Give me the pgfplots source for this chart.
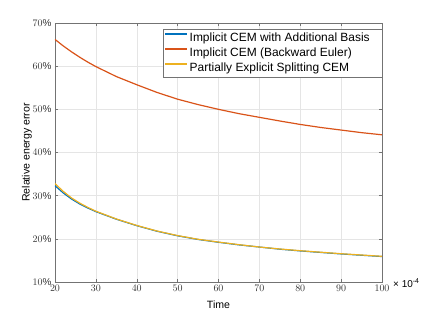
\documentclass[border=0pt]{standalone}
\usepackage{fontspec}
\setmainfont{Liberation Sans}
\usepackage{pgfplots}
\pgfplotsset{compat=1.18}
\definecolor{mblue}{rgb}{0,0.447,0.741}
\definecolor{mred}{rgb}{0.85,0.325,0.098}
\definecolor{myellow}{rgb}{0.929,0.694,0.125}
\definecolor{axgray}{rgb}{0.45,0.45,0.45}
\definecolor{gridgray}{rgb}{0.9,0.9,0.9}
\begin{document}
\begin{tikzpicture}
\begin{axis}[
  name=ax,
  at={(0,0)}, anchor=south west,
  scale only axis,
  width=327bp, height=259bp,
  xmin=20, xmax=100, ymin=10, ymax=70,
  xtick={20,30,...,100}, ytick={10,20,...,70},
  yticklabel={$\pgfmathprintnumber{\tick}\%$},
  grid=major,
  major grid style={gridgray, line width=0.5pt},
  axis line style={axgray, line width=0.6pt},
  tick style={axgray, line width=0.5pt},
  tick align=inside,
  major tick length=3bp,
  ticklabel style={font=\fontsize{10}{12}\selectfont, text=black!80},
  xlabel={Time}, ylabel={Relative energy error},
  label style={font=\fontsize{10.6}{12}\selectfont},
  xlabel style={yshift=-2bp},
  ylabel style={yshift=-6bp},
  legend style={at={(1,1)}, anchor=north east, yshift=-6bp,
    font=\fontsize{12}{14}\selectfont, draw=axgray, line width=0.5pt,
    inner xsep=1.5bp, inner ysep=3bp, row sep=3bp,
    nodes={inner xsep=1.5bp, inner ysep=0pt, text height=9bp, text depth=3bp}},
  legend cell align=left,
  legend image code/.code={\draw[#1, line width=1.7bp, line cap=butt] plot coordinates {(0bp,4bp) (22bp,4bp)};},
]
\addplot[mblue, line width=1.2pt] coordinates {
(20,32.3) (22,30.65) (24,29.25) (26,28.1) (28,27.15) (30,26.3) (35,24.55) (40,23.05) (45,21.75) (50,20.7) (55,19.85) (60,19.2) (65,18.6) (70,18.1) (75,17.6) (80,17.2) (85,16.85) (90,16.5) (95,16.2) (100,15.9)};
\addlegendentry{Implicit CEM with Additional Basis\hspace*{9bp}}
\addplot[mred, line width=1.2pt] coordinates {
(20,66.2) (22,64.7) (24,63.35) (26,62.1) (28,60.95) (30,59.9) (35,57.6) (40,55.7) (45,53.9) (50,52.35) (55,51.1) (60,50.0) (65,49.0) (70,48.15) (75,47.3) (80,46.5) (85,45.8) (90,45.2) (95,44.6) (100,44.1)};
\addlegendentry{Implicit CEM (Backward Euler)}
\addplot[myellow, line width=1.2pt] coordinates {
(20,32.8) (22,31.0) (24,29.5) (26,28.3) (28,27.3) (30,26.4) (35,24.6) (40,23.1) (45,21.8) (50,20.75) (55,19.9) (60,19.25) (65,18.65) (70,18.1) (75,17.65) (80,17.25) (85,16.9) (90,16.55) (95,16.25) (100,15.95)};
\addlegendentry{Partially Explicit Splitting CEM}
\end{axis}
\node[anchor=west, font=\fontsize{10}{12}\selectfont, inner sep=0pt] at (338bp,-1bp) {× 10\textsuperscript{-4}};
\pgfresetboundingbox
\path (-55bp,-35bp) rectangle (367bp,282bp);
\end{tikzpicture}
\end{document}
